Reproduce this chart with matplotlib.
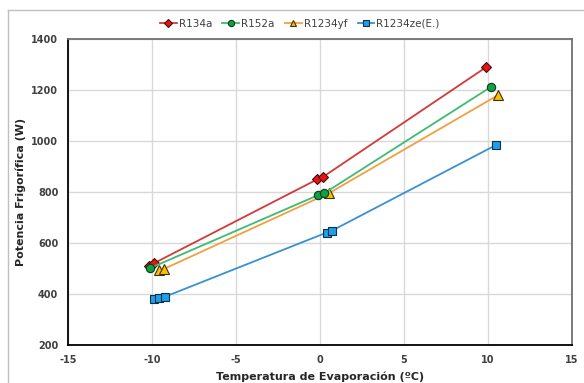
import matplotlib.pyplot as plt
from matplotlib.lines import Line2D

plt.rcParams['axes.unicode_minus'] = False

# potencia frigorifica vs temperatura de evaporacion
t_r134a = [-10.2, -9.9, -0.15, 0.15, 9.9]
q_r134a = [510, 520, 850, 858, 1290]

t_r152a = [-10.1, -0.1, 0.25, 10.2]
q_r152a = [502, 788, 795, 1213]

t_r1234yf = [-9.6, -9.3, 0.55, 10.6]
q_r1234yf = [494, 498, 796, 1180]

t_r1234ze = [-9.9, -9.6, -9.2, 0.4, 0.7, 10.5]
q_r1234ze = [382, 384, 390, 641, 648, 985]

fig = plt.figure(figsize=(5.84, 3.83), dpi=100)
ax = fig.add_axes([68/584, 1-345/383, (572-68)/584, (345-39)/383])

ax.plot(t_r134a, q_r134a, color='#d23a3a', lw=1.3, marker='D', ms=5,
        mfc='#ee1111', mec='#3a1010', mew=0.8, label='R134a', zorder=4)
ax.plot(t_r152a, q_r152a, color='#3dbb72', lw=1.3, marker='o', ms=6,
        mfc='#10a040', mec='#103a20', mew=0.8, label='R152a', zorder=4)
ax.plot(t_r1234yf, q_r1234yf, color='#f0a040', lw=1.3, marker='^', ms=6.5,
        mfc='#f8c000', mec='#403010', mew=0.8, label='R1234yf', zorder=3)
ax.plot(t_r1234ze, q_r1234ze, color='#3c90d0', lw=1.3, marker='s', ms=5.5,
        mfc='#1ea0e8', mec='#10304a', mew=0.8, label='R1234ze(E.)', zorder=3)

ax.set_xlim(-15, 15)
ax.set_ylim(200, 1400)
ax.set_xticks(range(-15, 16, 5))
ax.set_yticks(range(200, 1401, 200))
ax.grid(True, color='#d9d9d9', lw=1)
ax.set_axisbelow(True)
ax.tick_params(length=0, labelsize=7, pad=7)
for lbl in ax.get_xticklabels() + ax.get_yticklabels():
    lbl.set_fontweight('bold')
    lbl.set_color('#404040')

for s in ['left', 'bottom']:
    ax.spines[s].set_color('#000000')
    ax.spines[s].set_linewidth(1.3)
for s in ['top', 'right']:
    ax.spines[s].set_color('#707070')
    ax.spines[s].set_linewidth(1.3)

ax.set_xlabel('Temperatura de Evaporación (ºC)', fontsize=8, fontweight='bold',
              color='#262626', labelpad=5)
ax.set_ylabel('Potencia Frigorífica (W)', fontsize=8, fontweight='bold',
              color='#262626', labelpad=4)

leg = ax.legend(loc='lower center', bbox_to_anchor=(0.46, 1.02), ncol=4, frameon=False,
                fontsize=7.5, handlelength=1.6, handletextpad=0.2, columnspacing=1.0,
                borderaxespad=0, markerscale=0.75)
for txt in leg.get_texts():
    txt.set_color('#404040')

# marco exterior del grafico
fig.add_artist(Line2D([8/584, 1], [1-10/383, 1-10/383], color='#bfbfbf', lw=1))
fig.add_artist(Line2D([8/584, 8/584], [0, 1-10/383], color='#bfbfbf', lw=1))

fig.savefig('out.png', dpi=100)
